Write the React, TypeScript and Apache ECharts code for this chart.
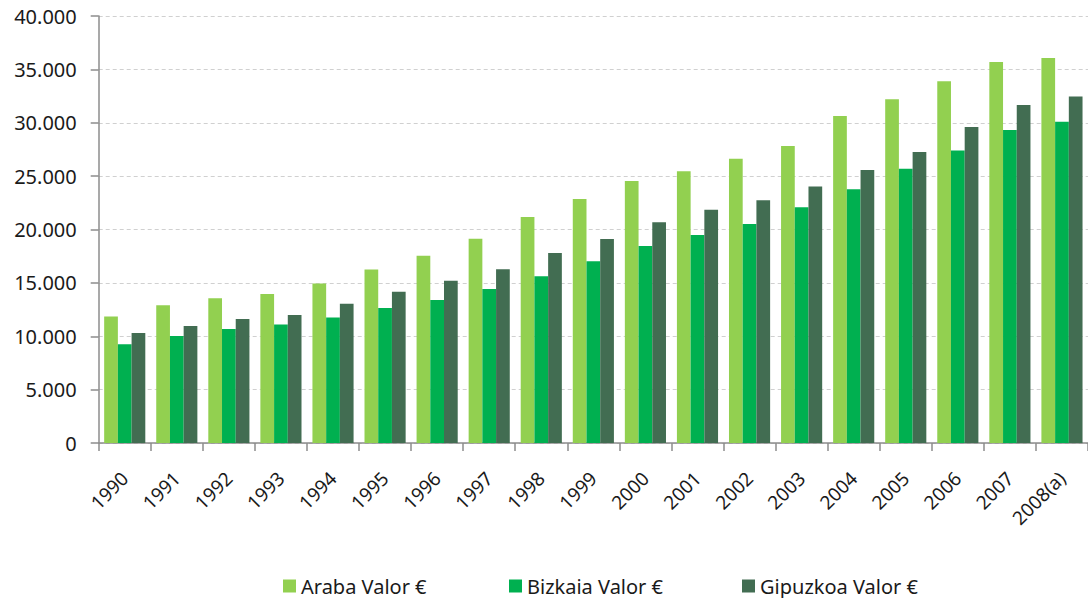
import React, { useEffect, useRef } from "react";
import * as echarts from "echarts";

const categories = ["1990","1991","1992","1993","1994","1995","1996","1997","1998","1999","2000","2001","2002","2003","2004","2005","2006","2007","2008(a)"];
const araba = [11850,12900,13550,13950,14950,16250,17550,19130,21180,22860,24550,25450,26620,27820,30640,32200,33880,35690,36070];
const bizkaia = [9240,10030,10690,11100,11750,12650,13400,14430,15620,17020,18450,19490,20520,22080,23770,25700,27390,29330,30100];
const gipuzkoa = [10300,10960,11610,12000,13040,14180,15200,16270,17800,19110,20680,21840,22750,24020,25580,27270,29610,31670,32450];
const seriesNames = ["Araba Valor €", "Bizkaia Valor €", "Gipuzkoa Valor €"];
const colors = ["#92D050", "#00B050", "#426D52"];
const yTicks = { min: 0, max: 40000, interval: 5000 };

const FONT = "'Noto Sans', sans-serif";

export default function App() {
  const ref = useRef<HTMLDivElement>(null);
  useEffect(() => {
    if (!ref.current) return;
    const chart = echarts.init(ref.current, null, { renderer: "svg" });
    const values = [araba, bizkaia, gipuzkoa];
    const legendLefts = [278, 504, 737];
    chart.setOption({
      animation: false,
      backgroundColor: "#ffffff",
      textStyle: { fontFamily: FONT },
      grid: { left: 98.7, right: -4, top: 16, bottom: 155, containLabel: false },
      legend: seriesNames.map((n, i) => ({
        data: [n],
        left: legendLefts[i],
        top: 571,
        itemWidth: 13,
        itemHeight: 13,
        itemGap: 0,
        icon: "rect",
        textStyle: { fontFamily: FONT, fontSize: 20, color: "#1a1a1a" },
      })),
      xAxis: {
        type: "category",
        data: categories,
        axisLine: { lineStyle: { color: "#8c8c8c", width: 1.5 } },
        axisTick: { show: true, length: 8, lineStyle: { color: "#8c8c8c", width: 1.5 } },
        axisLabel: { rotate: 45, fontSize: 19, color: "#1a1a1a", margin: 32, fontFamily: FONT },
      },
      yAxis: {
        type: "value",
        min: yTicks.min,
        max: yTicks.max,
        interval: yTicks.interval,
        axisLine: { show: true, lineStyle: { color: "#8c8c8c", width: 1.5 } },
        axisTick: { show: true, length: 8, lineStyle: { color: "#8c8c8c", width: 1.5 } },
        axisLabel: {
          fontSize: 20,
          color: "#1a1a1a",
          margin: 22,
          fontFamily: FONT,
          formatter: (v: number) => v.toLocaleString("de-DE"),
        },
        splitLine: { show: true, lineStyle: { color: "#d0d0d0", type: [4, 3], width: 1 } },
      },
      series: seriesNames.map((n, i) => ({
        name: n,
        type: "bar",
        data: values[i],
        barGap: "0%",
        barCategoryGap: "21%",
        itemStyle: { color: colors[i] },
      })),
    });
    return () => chart.dispose();
  }, []);
  return <div ref={ref} style={{ width: 1088, height: 598, position: "absolute", left: 0, top: 0 }} />;
}
